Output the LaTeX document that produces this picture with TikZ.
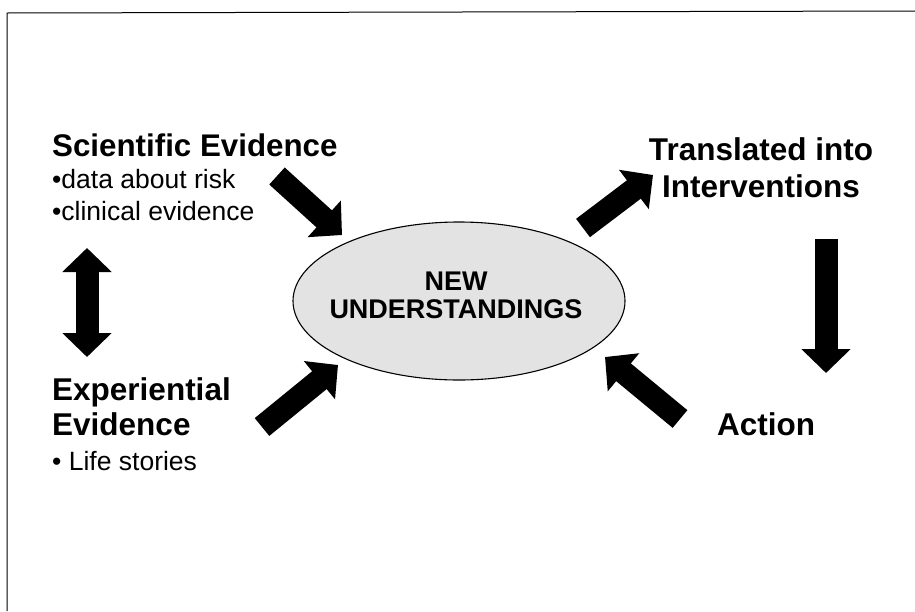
\documentclass[tikz,border=0pt]{standalone}
\usepackage{fontspec}
\setmainfont{Liberation Sans}
\usetikzlibrary{arrows.meta,shapes.geometric}

\begin{document}
\begin{tikzpicture}[x=1pt,y=-1pt,
		bigarrow/.style={line width=23pt,-{Triangle[length=24pt,width=48pt]}},
		headtext/.style={font=\fontsize{31.5}{35}\selectfont\bfseries,inner sep=0pt}]
	\useasboundingbox (0,0) rectangle (915,611);
	\draw[line width=1pt] (915,11) -- (7,13) -- (7,611);  % frame

	\node[draw,ellipse,fill=gray!22,line width=1.1pt,minimum width=332pt,minimum height=158pt,inner sep=0pt] (new) at (459,301) {};
	\node[align=center,inner sep=0pt,font=\fontsize{27}{28}\selectfont\bfseries] (newtext) at (456,295) {NEW\\UNDERSTANDINGS};

	\node[headtext,anchor=north west,align=left,font=\fontsize{26.5}{32}\selectfont] (sci) at (52,134)
		{{\fontsize{31.3}{33}\selectfont\bfseries Scientific Evidence}\\•data about risk\\•clinical evidence};
	\node[headtext,anchor=north west,align=left] (exp) at (52,377)
		{Experiential\\Evidence\\{\fontsize{26.5}{32}\selectfont\mdseries • Life stories}};
	\node[headtext,anchor=north,align=center,font=\fontsize{31.5}{37}\selectfont\bfseries] (trans) at (761,137)
		{Translated into\\Interventions};
	\node[headtext,anchor=base] (action) at (766,435) {Action};

	\coordinate (s0) at (277,176);  \coordinate (s1) at (342,235);
	\coordinate (t0) at (583,228);  \coordinate (t1) at (653,175);
	\coordinate (v0) at (826,239);  \coordinate (v1) at (826,373);
	\coordinate (c0) at (680,419);  \coordinate (c1) at (605,357);
	\coordinate (x0) at (262,427);  \coordinate (x1) at (338,365);
	\coordinate (d0) at (87,357);   \coordinate (d1) at (87,248);

	\def\list {s0/s1, t0/t1, v0/v1, c0/c1, x0/x1}  % block arrows
	\foreach \u/\v in \list
	{	\draw[bigarrow] (\u) -- (\v);}

	\draw[bigarrow,{Triangle[length=24pt,width=48pt]}-{Triangle[length=24pt,width=48pt]}] (d0) -- (d1);
\end{tikzpicture}
\end{document}
